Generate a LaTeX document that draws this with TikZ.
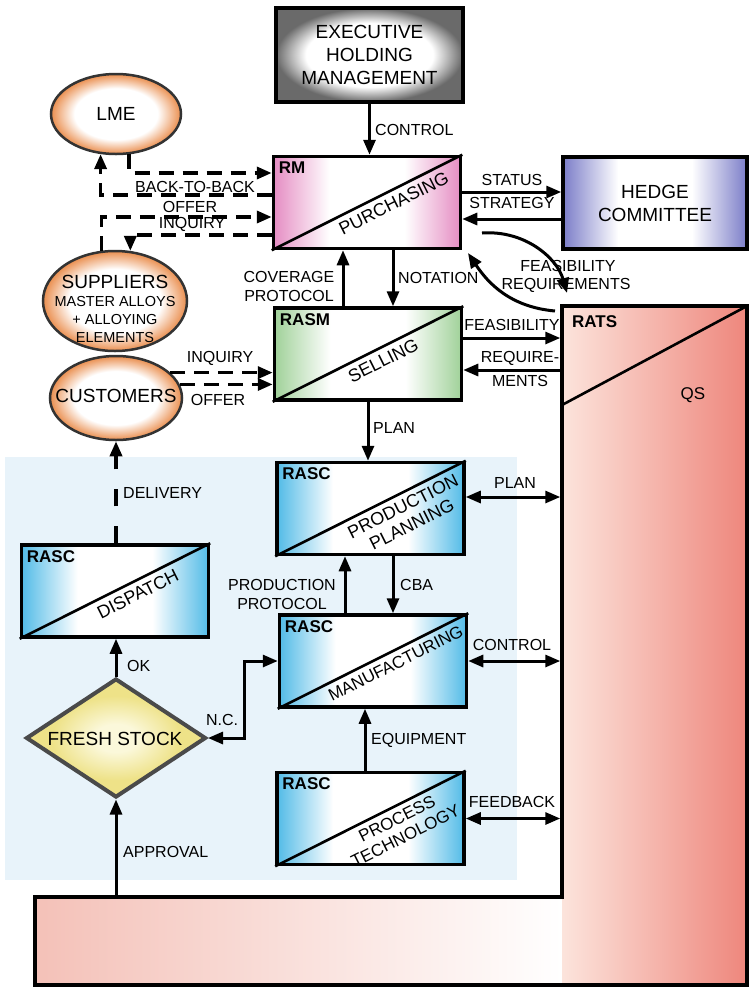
\documentclass[tikz,border=0pt]{standalone}
\usepackage{fontspec}
\setmainfont{Liberation Sans}
\usetikzlibrary{arrows.meta,shapes.geometric}

\definecolor{grayedge}{HTML}{6A6A6A}
\definecolor{pinkedge}{HTML}{E58DC3}
\definecolor{greenedge}{HTML}{A0D199}
\definecolor{blueedge}{HTML}{52BBE7}
\definecolor{hedgeedge}{HTML}{7B7DC8}
\definecolor{orangeedge}{HTML}{EA8E4E}
\definecolor{ydark}{HTML}{EEE288}
\definecolor{ylight}{HTML}{FBF8DA}
\definecolor{bgblue}{HTML}{E8F3FA}
\definecolor{ratsL}{HTML}{FCE4DC}
\definecolor{ratsR}{HTML}{EE867C}
\definecolor{stripL}{HTML}{F4C1B8}
\definecolor{diamedge}{HTML}{4A4A4A}
\definecolor{elledge}{HTML}{333333}

\pgfdeclarehorizontalshading{pinkshade}{100bp}{color(0bp)=(pinkedge); color(25bp)=(pinkedge); color(40bp)=(white); color(60bp)=(white); color(75bp)=(pinkedge); color(100bp)=(pinkedge)}
\pgfdeclarehorizontalshading{greenshade}{100bp}{color(0bp)=(greenedge); color(25bp)=(greenedge); color(40bp)=(white); color(60bp)=(white); color(75bp)=(greenedge); color(100bp)=(greenedge)}
\pgfdeclarehorizontalshading{blueshade}{100bp}{color(0bp)=(blueedge); color(25bp)=(blueedge); color(40bp)=(white); color(60bp)=(white); color(75bp)=(blueedge); color(100bp)=(blueedge)}
\pgfdeclarehorizontalshading{hedgeshade}{100bp}{color(0bp)=(hedgeedge); color(25bp)=(hedgeedge); color(40bp)=(white); color(60bp)=(white); color(75bp)=(hedgeedge); color(100bp)=(hedgeedge)}
\pgfdeclareradialshading{execshade}{\pgfpoint{0bp}{0bp}}{color(0bp)=(white); color(17bp)=(white); color(25bp)=(grayedge); color(50bp)=(grayedge)}
\pgfdeclareradialshading{orangeshade}{\pgfpoint{0bp}{0bp}}{color(0bp)=(white); color(16bp)=(white); color(25bp)=(orangeedge); color(50bp)=(orangeedge)}
\pgfdeclareradialshading{yellowshade}{\pgfpoint{0bp}{0bp}}{color(0bp)=(ylight); color(6bp)=(ylight); color(18bp)=(ydark); color(50bp)=(ydark)}

\newcommand{\procbox}[7]{%
  \node[pbox, shading=#3] (#1) at #2 {};
  \node[boxcode] (#1code) at ([xshift=7pt,yshift=-7pt]#1.north west) {#4};
  \draw[diag] (#1.south west) -- (#1.north east)
    node[pos=#6, sloped, below=5pt, align=center, font={#7}] (#1txt) {#5};
}

\begin{document}
\begin{tikzpicture}[x=1pt,y=-1pt,
  every node/.style={inner sep=0pt},
  pbox/.style={draw, line width=3.5pt, shade, minimum width=187pt, minimum height=92pt},
  boxcode/.style={font=\bfseries\fontsize{17}{19}\selectfont, anchor=north west},
  diag/.style={line width=2.6pt},
  lab/.style={font=\fontsize{16}{19}\selectfont, align=center},
  big/.style={font=\fontsize{19}{23}\selectfont, align=center},
  arr/.style={line width=3pt, -{Triangle[length=15pt,width=12pt]}},
  dbl/.style={line width=3pt, {Triangle[length=15pt,width=12pt]}-{Triangle[length=15pt,width=12pt]}},
  dsh/.style={line width=3.5pt, dash pattern=on 15pt off 9pt, -{Triangle[length=15pt,width=12pt]}},
  ell/.style={ellipse, draw=elledge, line width=2.5pt, shade, shading=orangeshade},
]
\useasboundingbox (0,0) rectangle (751,994);
\fill[white] (0,0) rectangle (751,994);
\fill[bgblue] (5,457) rectangle (517,880);

% RATS / QS L-shape
\fill[left color=stripL, right color=white] (35,897) rectangle (562,985);
\fill[left color=ratsL, right color=ratsR] (562,306) rectangle (747,985);
\draw[line width=3.5pt] (562,306) -- (747,306) -- (747,985) -- (35,985) -- (35,897) -- (562,897) -- cycle;
\node[minimum width=185pt, minimum height=679pt, outer sep=1.75pt] (rats) at (654.5,645.5) {};
\coordinate (ratsd) at (562,405);
\coordinate (ratsc) at (747,306);
\draw[diag] (ratsd) -- (ratsc);
\node[boxcode] (ratscode) at (572,315) {RATS};
\node[font=\fontsize{17}{20}\selectfont] (qs) at (693,395) {QS};

% top boxes
\node[pbox, shading=execshade, minimum width=187pt, minimum height=94pt, big] (exec) at (369.5,55) {EXECUTIVE\\HOLDING\\MANAGEMENT};
\node[pbox, shading=hedgeshade, minimum width=184pt, big] (hedge) at (655,203) {HEDGE\\COMMITTEE};

\procbox{rm}{(367,202.5)}{pinkshade}{RM}{PURCHASING}{0.61}{\fontsize{18}{20}\selectfont}
\procbox{rasm}{(368,354)}{greenshade}{RASM}{SELLING}{0.55}{\fontsize{18}{20}\selectfont}
\procbox{pp}{(370.5,508.5)}{blueshade}{RASC}{PRODUCTION\\PLANNING}{0.64}{\fontsize{18}{20}\selectfont}
\procbox{disp}{(115,591)}{blueshade}{RASC}{DISPATCH}{0.59}{\fontsize{18}{20}\selectfont}
\procbox{mfg}{(373,661)}{blueshade}{RASC}{MANUFACTURING}{0.59}{\fontsize{17}{19}\selectfont}
\procbox{pt}{(370.5,818.5)}{blueshade}{RASC}{PROCESS\\TECHNOLOGY}{0.61}{\fontsize{17}{19}\selectfont}

% ellipses
\node[ell, minimum width=130pt, minimum height=80pt] (lme) at (116,114) {};
\node[big] (lmetxt) at (116,114) {LME};
\node[ell, minimum width=144pt, minimum height=100pt] (sup) at (115,301) {};
\node[big] (suptxt1) at (115,282) {SUPPLIERS};
\node[font=\fontsize{14.5}{17}\selectfont] (suptxt2) at (115,302) {MASTER ALLOYS};
\node[font=\fontsize{14.5}{17}\selectfont] (suptxt3) at (115,320) {+ ALLOYING};
\node[font=\fontsize{14.5}{17}\selectfont] (suptxt4) at (115,338) {ELEMENTS};
\node[ell, minimum width=132pt, minimum height=84pt] (cust) at (116,398) {};
\node[big] (custtxt) at (116,396) {CUSTOMERS};

% diamond
\node[diamond, draw=diamedge, line width=4pt, shade, shading=yellowshade, minimum width=180pt, minimum height=119pt] (fresh) at (116,738) {};
\node[big] (freshtxt) at (115,739) {FRESH STOCK};

% connectors
\draw[arr] (exec.south) -- (exec.south |- rm.north);
\draw[arr] ([yshift=10.5pt]rm.east) -- ([yshift=10.5pt]rm.east -| hedge.west);
\draw[arr] ([yshift=-16.5pt]rm.east -| hedge.west) -- ([yshift=-16.5pt]rm.east);
\coordinate (fa1) at (482,233);
\coordinate (fa2) at (567,293);
\coordinate (fb1) at (555,311);
\coordinate (fb2) at (468,253);
\draw[arr] (fa1) .. controls +(43,-3) and +(-10,-35) .. (fa2);
\draw[arr] (fb1) .. controls +(-45,-4) and +(20,30) .. (fb2);

\draw[dsh] (lme.-72) |- ([yshift=29.5pt]rm.west);
\draw[dsh] ([yshift=7.5pt]rm.west) -| (lme.-111);
\draw[dsh] (sup.105) |- ([yshift=-14.5pt]rm.west);
\draw[dsh] ([yshift=-32.5pt]rm.west) -| (sup.73);

\draw[arr] ([xshift=-25pt]rasm.north) -- ([xshift=-25pt]rasm.north |- rm.south);
\draw[arr] ([xshift=26pt]rm.south) -- ([xshift=26pt]rm.south |- rasm.north);
\draw[arr] ([yshift=16pt]rasm.east) -- ([yshift=16pt]rasm.east -| rats.west);
\draw[arr] ([yshift=-16pt]rasm.east -| rats.west) -- ([yshift=-16pt]rasm.east);

\draw[dsh] (cust.25) -- (cust.25 -| rasm.west);
\draw[dsh] (cust.12) -- (cust.12 -| rasm.west);

\draw[arr] (rasm.south) -- (rasm.south |- pp.north);
\draw[dbl] ([yshift=11.5pt]pp.east) -- ([yshift=11.5pt]pp.east -| rats.west);
\draw[arr] ([xshift=-28pt]mfg.north) -- ([xshift=-28pt]mfg.north |- pp.south);
\draw[arr] ([xshift=22.5pt]pp.south) -- ([xshift=22.5pt]pp.south |- mfg.north);
\draw[dbl] (mfg.east) -- (mfg.east -| rats.west);
\draw[dbl] (pt.east) -- (pt.east -| rats.west);
\draw[arr] ([xshift=-5.5pt]pt.north) -- ([xshift=-5.5pt]pt.north |- mfg.south);
\draw[dbl] (fresh.east) -- ++(36,0) |- (mfg.west);
\draw[arr] (fresh.north) -- (fresh.north |- disp.south);
\draw[line width=3.5pt, dash pattern=on 17pt off 20pt, -{Triangle[length=15pt,width=12pt]}] (cust.south |- disp.north) -- (cust.south);
\coordinate (apstart) at (116,895.5);
\draw[arr] (apstart) -- (fresh.south);

% labels
\node[lab, anchor=west] (lcontrol) at (375,130) {CONTROL};
\node[lab] (lstatus) at (512,180) {STATUS};
\node[lab] (lstrategy) at (512,203) {STRATEGY};
\node[lab] (lfeas1) at (568,266) {FEASIBILITY};
\node[lab] (lreq1) at (566,285) {REQUIREMENTS};
\node[lab] (lb2b) at (195,187) {BACK-TO-BACK};
\node[lab] (loffer1) at (190,207) {OFFER};
\node[lab] (linq1) at (192,224) {INQUIRY};
\node[lab] (lcov) at (289,286) {COVERAGE\\PROTOCOL};
\node[lab, anchor=west] (lnot) at (398,278) {NOTATION};
\node[lab] (lfeas2) at (512,325) {FEASIBILITY};
\node[lab] (lreq2a) at (520,358) {REQUIRE-};
\node[lab] (lreq2b) at (520,381) {MENTS};
\node[lab] (linq2) at (220,358) {INQUIRY};
\node[lab] (loffer2) at (218,400) {OFFER};
\node[lab, anchor=west] (lplan1) at (373,428) {PLAN};
\node[lab, anchor=west] (ldeliv) at (123,493) {DELIVERY};
\node[lab] (lplan2) at (515,483) {PLAN};
\node[lab] (lpp) at (282,594) {PRODUCTION\\PROTOCOL};
\node[lab, anchor=west] (lcba) at (400,585) {CBA};
\node[lab] (lcontrol2) at (512,645) {CONTROL};
\node[lab, anchor=west] (lok) at (127,666) {OK};
\node[lab] (lnc) at (222,720) {N.C.};
\node[lab, anchor=west] (lequip) at (371,740) {EQUIPMENT};
\node[lab] (lfeed) at (512,802) {FEEDBACK};
\node[lab, anchor=west] (lappr) at (123,852) {APPROVAL};
\end{tikzpicture}
\end{document}
